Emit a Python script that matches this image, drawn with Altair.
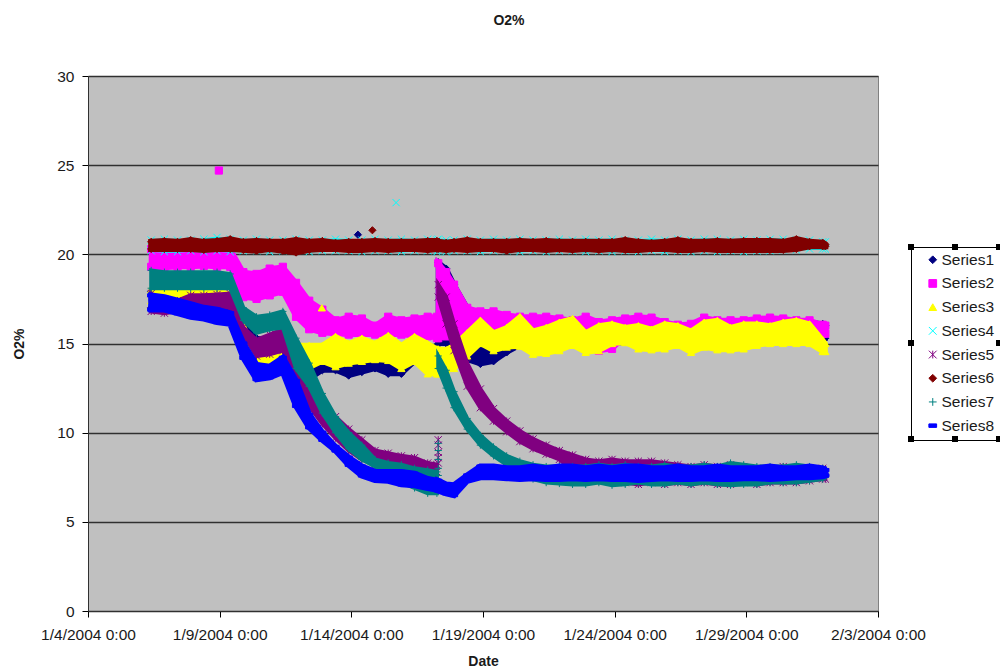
import altair as alt
import pandas as pd

SERIES = ["Series1", "Series2", "Series3", "Series4", "Series5", "Series6", "Series7", "Series8"]
COLORS = ["#000080", "#FF00FF", "#FFFF00", "#00FFFF", "#800080", "#800000", "#008080", "#0000FF"]
SHAPES = ["diamond", "square", "triangle-up", "M-1,-1L1,1M-1,1L1,-1",
          "M-1,-1L1,1M-1,1L1,-1M0,-1L0,1", "diamond", "M-1,0L1,0M0,-1L0,1", "M-1,-0.45H1V0.45H-1Z"]
BAND_EDGE = [5, 5, 5, 2, 4, 6, 4, 6]

# days after 1/4/2004 0:00; the first block ends just before the 1/17 step change
DAYS_A = [2.4, 2.9, 3.4, 3.9, 4.4, 4.9, 5.4, 5.9, 6.4, 6.9, 7.4, 7.9, 8.4, 8.9, 9.4, 9.9,
          10.4, 10.9, 11.4, 11.9, 12.4, 12.9, 13.25]
DAYS_B = [13.3, 13.6, 13.9, 14.4, 14.9, 15.4, 15.9, 16.4, 16.9, 17.4, 17.9, 18.4, 18.9, 19.4,
          19.9, 20.4, 20.9, 21.4, 21.9, 22.4, 22.9, 23.4, 23.9, 24.4, 24.9, 25.4, 25.9, 26.4,
          26.9, 27.4, 27.9, 28.0]

S1_HI = [17.9, 17.8, 17.9, 17.8, 17.8, 17.8, 17.7, 16.0, 15.3, 15.2, 15.0, 14.5, 14.5, 14.6, 14.8, 14.7,
         14.7, 14.7, 14.7, 14.6, 14.7, 14.7, 14.8] + \
        [19.55, 19.2, 18.3, 17.0, 16.5, 16.0, 15.9, 15.9, 15.9, 16.0, 16.0, 16.0, 16.0, 15.9, 16.0, 16.0,
         16.0, 16.1, 16.0, 16.0, 16.0, 16.1, 16.0, 16.1, 16.0, 16.1, 16.1, 16.1, 16.2, 16.2, 16.1, 16.0]
S1_LO = [17.0, 17.0, 17.0, 17.0, 17.0, 17.0, 17.0, 15.0, 14.4, 14.3, 14.2, 13.5, 13.0, 13.5, 13.5, 13.2,
         13.4, 13.6, 13.3, 13.3, 14.0, 14.0, 14.2] + \
        [15.0, 15.0, 14.9, 14.1, 13.85, 14.0, 14.5, 14.9, 15.0, 15.0, 15.0, 15.1, 15.1, 15.0, 15.1, 15.1,
         15.1, 15.1, 15.1, 15.1, 15.1, 15.1, 15.2, 15.2, 15.2, 15.2, 15.2, 15.2, 15.2, 15.3, 15.3, 15.3]

S2_HI = [20.3, 20.3, 20.3, 20.3, 20.3, 20.3, 20.3, 19.0, 18.9, 19.2, 19.3, 18.4, 17.4, 16.9, 16.3, 16.5,
         16.4, 16.0, 16.5, 16.3, 16.4, 16.5, 16.5] + \
        [19.5, 19.0, 18.3, 17.0, 16.8, 16.8, 16.6, 16.5, 16.5, 16.5, 16.4, 16.3, 16.5, 16.2, 16.3, 16.4,
         16.5, 16.45, 16.2, 16.05, 16.1, 16.45, 16.3, 16.3, 16.3, 16.4, 16.45, 16.4, 16.3, 16.3, 16.05, 16.0]
S2_LO = [19.3, 19.25, 19.3, 19.3, 19.35, 19.3, 19.3, 17.6, 17.5, 17.7, 17.9, 16.5, 15.8, 15.6, 15.55, 15.5,
         15.5, 15.5, 15.5, 15.5, 15.4, 15.4, 15.3] + \
        [15.3, 15.4, 15.5, 15.6, 15.7, 15.6, 15.7, 15.6, 15.5, 15.5, 15.5, 15.4, 15.4, 14.6, 14.7, 15.4,
         15.5, 15.5, 15.5, 15.5, 15.5, 15.5, 15.5, 15.5, 15.5, 15.5, 15.5, 15.5, 15.5, 15.5, 15.55, 15.55]

S3_HI = [18.0, 18.0, 17.9, 18.0, 17.95, 17.9, 17.8, 16.0, 14.0, 14.3, 14.6, 14.9, 14.9, 14.9, 15.4, 15.0,
         15.3, 15.0, 15.45, 14.9, 15.4, 15.0, 14.7] + \
        [14.7, 14.65, 14.9, 15.6, 16.3, 15.6, 15.9, 16.5, 15.7, 15.9, 16.2, 16.4, 15.6, 16.0, 16.1, 15.9,
         16.0, 15.8, 16.1, 16.0, 15.7, 16.2, 16.3, 15.9, 16.1, 16.1, 16.0, 16.2, 16.3, 16.1, 15.2, 15.0]
S3_LO = [17.4, 17.5, 17.5, 17.5, 17.5, 17.5, 17.5, 15.5, 13.6, 13.7, 14.1, 13.8, 13.65, 14.0, 13.7, 13.9,
         14.0, 14.1, 14.05, 13.6, 14.0, 13.3, 13.3] + \
        [13.3, 13.5, 13.6, 14.3, 15.0, 14.6, 14.8, 14.85, 14.4, 14.45, 14.6, 14.9, 14.5, 14.6, 15.0, 15.05,
         14.7, 14.65, 14.7, 14.9, 14.5, 14.8, 14.65, 14.65, 14.7, 14.9, 15.0, 15.0, 15.0, 15.0, 14.55, 14.55]

S4_HI = [20.8, 20.85, 20.8, 20.8, 20.85, 20.95, 20.85, 20.8, 20.85, 20.8, 20.8, 20.85, 20.8, 20.8, 20.85, 20.8,
         20.8, 20.85, 20.8, 20.85, 20.8, 20.85, 20.8] + \
        [20.85, 20.8, 20.8, 20.85, 20.8, 20.85, 20.8, 20.85, 20.8, 20.8, 20.85, 20.8, 20.85, 20.8, 20.85, 20.8,
         20.8, 20.85, 20.8, 20.85, 20.8, 20.85, 20.85, 20.8, 20.85, 20.8, 20.85, 20.85, 20.8, 20.8, 20.7, 20.7]
S4_LO = [20.2, 20.15, 20.15, 20.2, 20.15, 20.2, 20.15, 20.2, 20.2, 20.15, 20.2, 20.2, 20.15, 20.2, 20.2, 20.2,
         20.15, 20.2, 20.2, 20.15, 20.2, 20.2, 20.15] + \
        [20.2, 20.15, 20.2, 20.2, 20.15, 20.2, 20.2, 20.15, 20.2, 20.15, 20.2, 20.2, 20.15, 20.2, 20.15, 20.2,
         20.15, 20.2, 20.15, 20.2, 20.15, 20.2, 20.15, 20.2, 20.15, 20.2, 20.2, 20.25, 20.25, 20.3, 20.3, 20.3]

S5_HI = [17.8, 17.1, 17.4, 17.7, 17.7, 17.75, 17.8, 15.9, 15.2, 15.5, 15.8, 14.4, 12.5, 11.7, 10.9, 10.2,
         9.6, 9.0, 8.85, 8.7, 8.6, 8.3, 8.2] + \
        [18.3, 17.6, 16.1, 13.9, 12.45, 11.35, 10.65, 10.1, 9.65, 9.3, 9.0, 8.75, 8.5, 8.4, 8.5, 8.4,
         8.4, 8.4, 8.3, 8.2, 8.1, 8.2, 8.1, 8.2, 8.1, 8.0, 8.0, 8.1, 8.0, 8.0, 8.0, 7.8]
S5_LO = [16.8, 16.7, 16.8, 17.0, 17.0, 17.0, 17.0, 15.5, 14.3, 14.4, 14.6, 13.0, 11.5, 10.5, 9.7, 9.0,
         8.5, 8.2, 8.1, 8.1, 8.0, 7.9, 7.8] + \
        [17.6, 16.1, 14.6, 12.6, 11.4, 10.65, 10.05, 9.5, 9.1, 8.8, 8.5, 7.9, 7.5, 7.3, 7.3, 7.2,
         7.1, 7.2, 7.1, 7.2, 7.1, 7.2, 7.1, 7.1, 7.2, 7.1, 7.2, 7.2, 7.2, 7.3, 7.4, 7.4]

S6_HI = [20.7, 20.75, 20.7, 20.8, 20.7, 20.75, 20.85, 20.7, 20.75, 20.7, 20.7, 20.8, 20.7, 20.75, 20.65, 20.7,
         20.7, 20.75, 20.7, 20.7, 20.7, 20.75, 20.75] + \
        [20.7, 20.65, 20.7, 20.8, 20.7, 20.7, 20.7, 20.75, 20.7, 20.75, 20.7, 20.7, 20.7, 20.7, 20.7, 20.8,
         20.7, 20.65, 20.7, 20.8, 20.7, 20.7, 20.75, 20.7, 20.75, 20.75, 20.75, 20.7, 20.85, 20.7, 20.65, 20.55]
S6_LO = [20.3, 20.3, 20.3, 20.3, 20.25, 20.3, 20.3, 20.25, 20.2, 20.3, 20.2, 20.1, 20.25, 20.3, 20.3, 20.25,
         20.25, 20.3, 20.25, 20.3, 20.3, 20.25, 20.3] + \
        [20.3, 20.25, 20.3, 20.25, 20.3, 20.3, 20.2, 20.3, 20.3, 20.25, 20.3, 20.25, 20.3, 20.25, 20.3, 20.25,
         20.25, 20.3, 20.3, 20.25, 20.25, 20.3, 20.25, 20.25, 20.25, 20.25, 20.25, 20.25, 20.3, 20.45, 20.45, 20.45]

S7_HI = [19.1, 19.0, 19.0, 19.0, 19.0, 19.0, 18.9, 17.0, 16.5, 16.6, 16.8, 15.3, 13.9, 12.2, 10.9, 10.0,
         9.3, 8.5, 8.3, 8.2, 8.0, 7.9, 7.8] + \
        [14.3, 13.5, 12.3, 10.8, 9.85, 9.2, 8.7, 8.4, 8.2, 8.1, 8.1, 8.1, 8.1, 8.2, 8.1, 8.2,
         8.1, 8.1, 8.2, 8.1, 8.1, 8.2, 8.1, 8.3, 8.2, 8.1, 8.1, 8.1, 8.2, 8.1, 8.0, 7.9]
S7_LO = [18.1, 18.1, 18.1, 18.1, 18.1, 18.1, 18.1, 16.3, 15.6, 15.8, 15.9, 13.6, 12.6, 11.1, 10.0, 9.1,
         8.5, 8.1, 7.5, 7.2, 6.9, 6.6, 6.6] + \
        [13.6, 12.5, 11.4, 10.2, 9.3, 8.7, 8.2, 7.8, 7.4, 7.2, 7.15, 7.1, 7.1, 7.2, 7.05, 7.1,
         7.2, 7.1, 7.1, 7.2, 7.1, 7.2, 7.1, 7.05, 7.1, 7.1, 7.2, 7.2, 7.2, 7.3, 7.4, 7.5]

S8_HI = [17.7, 17.6, 17.4, 17.2, 17.0, 16.9, 16.7, 15.0, 13.8, 13.7, 14.2, 12.9, 11.0, 10.0, 9.2, 8.6,
         8.1, 7.8, 7.8, 7.8, 7.7, 7.4, 7.3] + \
        [7.3, 7.1, 7.05, 7.6, 8.1, 8.1, 8.0, 8.0, 8.1, 8.0, 8.1, 8.1, 8.0, 8.1, 8.0, 8.1,
         8.1, 8.0, 8.0, 8.1, 8.0, 8.0, 8.1, 8.0, 8.0, 8.0, 8.1, 8.0, 8.0, 8.1, 8.0, 7.9]
S8_LO = [16.9, 16.9, 16.7, 16.5, 16.4, 16.2, 16.1, 14.2, 13.0, 13.1, 13.4, 11.5, 10.3, 9.6, 9.0, 8.2,
         7.6, 7.35, 7.3, 7.1, 7.05, 6.9, 6.8] + \
        [6.75, 6.6, 6.5, 7.3, 7.5, 7.5, 7.45, 7.4, 7.45, 7.4, 7.4, 7.45, 7.4, 7.45, 7.4, 7.4,
         7.35, 7.4, 7.45, 7.4, 7.4, 7.45, 7.4, 7.4, 7.45, 7.45, 7.4, 7.45, 7.5, 7.5, 7.55, 7.6]

HI = [S1_HI, S2_HI, S3_HI, S4_HI, S5_HI, S6_HI, S7_HI, S8_HI]
LO = [S1_LO, S2_LO, S3_LO, S4_LO, S5_LO, S6_LO, S7_LO, S8_LO]

# stray readings and the short vertical run of readings at the 1/17 step
OUT_DAY = [[10.25], [4.97], [8.88], [11.7], [13.3, 13.3, 13.3, 13.3, 13.3],
           [10.8], [13.3, 13.3, 13.3, 13.3, 13.3], []]
OUT_VAL = [[21.1], [24.7], [17.0], [22.9], [8.3, 8.6, 8.9, 9.3, 9.6],
           [21.35], [7.6, 8.0, 8.5, 9.0, 9.4], []]

X_TICKS = ["2004-01-04T00:00:00", "2004-01-09T00:00:00", "2004-01-14T00:00:00", "2004-01-19T00:00:00",
           "2004-01-24T00:00:00", "2004-01-29T00:00:00", "2004-02-03T00:00:00"]
Y_TICKS = [0, 5, 10, 15, 20, 25, 30]

T0 = pd.Timestamp("2004-01-04")
def stamp(d):
    return (T0 + pd.Timedelta(days=d)).isoformat()

F = "Liberation Sans"
TXT = "#1a1a1a"
x_enc = alt.X("date:T", scale=alt.Scale(domain=[X_TICKS[0], X_TICKS[-1]]), title="Date",
              axis=alt.Axis(values=X_TICKS, format="%-m/%-d/%Y %-H:%M", grid=False, labelFont=F, labelFontSize=15.5,
                            labelColor=TXT, titleFont=F, titleFontSize=14, titleFontWeight="bold", titleColor=TXT,
                            titlePadding=12, tickColor="#000000", tickSize=6, domainColor="#303030", labelPadding=10,
                            labelOverlap=False, labelFlush=False))
y_enc = alt.Y("v:Q", scale=alt.Scale(domain=[0, 30], nice=False), title="O2%",
              axis=alt.Axis(values=Y_TICKS, grid=True, gridColor="#303030", gridWidth=1.5, labelFont=F, labelFontSize=15.5,
                            labelColor=TXT, titleFont=F, titleFontSize=14, titleFontWeight="bold", titleColor=TXT,
                            titlePadding=30, tickColor="#000000", tickSize=6, domainColor="#303030", labelPadding=8))

layers = []
for i, name in enumerate(SERIES):
    n_a = len(DAYS_A)
    days = DAYS_A + DAYS_B
    assert len(days) == len(HI[i]) == len(LO[i])
    band = pd.DataFrame({
        "date": [stamp(d) for d in days],
        "v": HI[i], "v2": LO[i],
        "seg": ["a"] * n_a + ["b"] * len(DAYS_B),
    })
    layers.append(alt.Chart(band).mark_area(color=COLORS[i], opacity=1, interpolate="linear",
                                            stroke=COLORS[i], strokeWidth=BAND_EDGE[i], strokeJoin="miter").encode(
        x=x_enc, y=y_enc, y2="v2:Q", detail="seg:N"))
    rows = []
    for d, h, l in zip(days, HI[i], LO[i]):
        rows.append({"date": stamp(d), "v": h, "series": name})
        rows.append({"date": stamp(d), "v": l, "series": name})
    for d, v in zip(OUT_DAY[i], OUT_VAL[i]):
        rows.append({"date": stamp(d), "v": v, "series": name})
    pts = pd.DataFrame(rows)
    legend = alt.Legend(orient="none", legendX=823, legendY=171, title=None, labelFont=F, labelFontSize=15.5,
                        labelColor=TXT, strokeColor="#000000", padding=5, rowPadding=6.7, symbolSize=60,
                        symbolStrokeWidth=1, labelOffset=1, symbolOffset=9)
    layers.append(alt.Chart(pts).mark_point(filled=True, opacity=1, strokeWidth=1, size=52).encode(
        x=x_enc, y=y_enc,
        fill=alt.Fill("series:N", scale=alt.Scale(domain=SERIES, range=COLORS), legend=legend),
        stroke=alt.Stroke("series:N", scale=alt.Scale(domain=SERIES, range=COLORS), legend=legend),
        shape=alt.Shape("series:N", scale=alt.Scale(domain=SERIES, range=SHAPES), legend=legend),
    ))

# selection handles round the legend
HANDLE_X = [823, 867, 911, 823, 911, 823, 867, 911]
HANDLE_Y = [171, 171, 171, 267, 267, 363, 363, 363]
for hx, hy in zip(HANDLE_X, HANDLE_Y):
    layers.append(alt.Chart(pd.DataFrame({"k": [0]})).mark_square(color="#000000", size=36, opacity=1).encode(
        x=alt.value(hx), y=alt.value(hy)))

chart = alt.layer(*layers).properties(
    width=790, height=535,
    title=alt.TitleParams("O2%", font=F, fontSize=14, fontWeight="bold", color=TXT, anchor="middle", offset=41, dx=26),
    autosize=alt.AutoSizeParams(type="none"),
    padding={"left": 80, "top": 68, "right": 122, "bottom": 58},
    background="#ffffff",
).configure_view(fill="#C0C0C0", stroke="#808080", strokeWidth=1)

chart.save("out.html", embed_options={"renderer": "svg", "actions": False})
